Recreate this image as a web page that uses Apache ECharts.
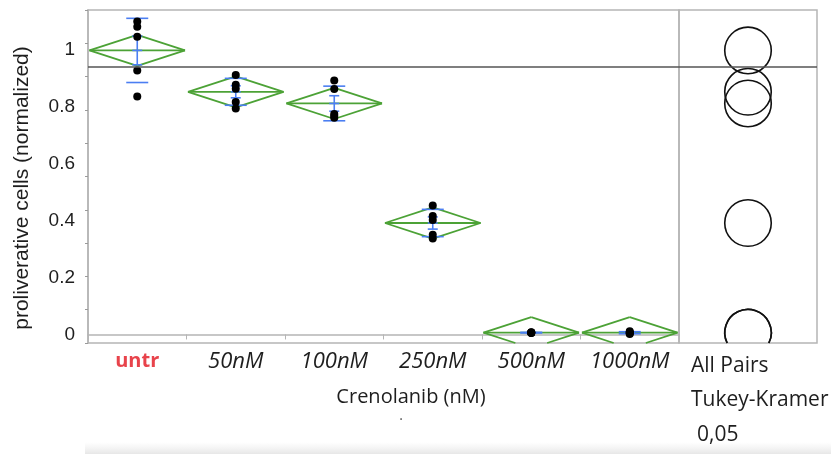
<!DOCTYPE html>
<html>
<head>
<meta charset="utf-8">
<script src="https://cdn.jsdelivr.net/npm/echarts@6/dist/echarts.min.js"></script>
<style>
  html, body { margin: 0; padding: 0; background: #ffffff; }
  #chart { width: 831px; height: 454px; }
</style>
</head>
<body>
<div id="chart"></div>
<script>
// Proliferation after Crenolanib treatment, normalized to untreated cells
const categories = ['untr', '50nM', '100nM', '250nM', '500nM', '1000nM'];
const untr   = [1.100, 1.081, 1.046, 0.927, 0.836];
const nM50   = [0.912, 0.877, 0.863, 0.817, 0.794];
const nM100  = [0.892, 0.862, 0.775, 0.768, 0.761];
const nM250  = [0.453, 0.416, 0.402, 0.350, 0.337];
const nM500  = [0.005, 0.006, 0.006, 0.007, 0.008];
const nM1000 = [0.002, 0.004, 0.006, 0.008, 0.011];
const groups = [untr, nM50, nM100, nM250, nM500, nM1000];

const referenceLevel = 0.94;
const yLabelValues = [0, 0.2, 0.4, 0.6, 0.8, 1];
const yMin = -0.03, yMax = 1.14;

const tCrit = 2.064;  // t(0.975), df = 24
const qStar = 3.092;  // Tukey-Kramer q(0.95; 6, 24) / sqrt(2)

// ---- one-way statistics ----
const stats = groups.map(g => {
  const n = g.length;
  const mean = g.reduce((a, b) => a + b, 0) / n;
  const ss = g.reduce((a, v) => a + (v - mean) * (v - mean), 0);
  const sd = Math.sqrt(ss / (n - 1));
  return { n, mean, ss, sd, se: sd / Math.sqrt(n) };
});
const totalN = stats.reduce((a, s) => a + s.n, 0);
const pooledSd = Math.sqrt(stats.reduce((a, s) => a + s.ss, 0) / (totalN - groups.length));

const diamondData = stats.map((s, i) => [i, s.mean, tCrit * pooledSd / Math.sqrt(s.n)]);
const barData = stats.map((s, i) => [i, s.mean, s.sd, s.se]);
const pointData = [];
groups.forEach((g, i) => g.forEach(v => pointData.push([i, v])));
const circleData = stats.map(s => [0, s.mean, qStar * pooledSd / Math.sqrt(s.n)]);

const green = '#4ca236';
const blue = '#4b7ef2';
const frame = '#b5b5b5';
const textColor = '#1e1e1e';

// clip a segment to the vertical extent [yTop, yBot] of the plot frame
function clipSegment(p, q, yTop, yBot) {
  let [x1, y1] = p, [x2, y2] = q;
  const cut = (ya, yb, xa, xb, yl) => xa + (xb - xa) * (yl - ya) / (yb - ya);
  if ((y1 > yBot && y2 > yBot) || (y1 < yTop && y2 < yTop)) return null;
  if (y1 > yBot) { x1 = cut(y1, y2, x1, x2, yBot); y1 = yBot; }
  if (y2 > yBot) { x2 = cut(y2, y1, x2, x1, yBot); y2 = yBot; }
  if (y1 < yTop) { x1 = cut(y1, y2, x1, x2, yTop); y1 = yTop; }
  if (y2 < yTop) { x2 = cut(y2, y1, x2, x1, yTop); y2 = yTop; }
  return { x1, y1, x2, y2 };
}

const refLine = {
  silent: true,
  symbol: ['none', 'none'],
  label: { show: false },
  lineStyle: { color: '#555555', width: 1.5, type: 'solid' },
  data: [{ yAxis: referenceLevel }]
};

const chart = echarts.init(document.getElementById('chart'), null, { renderer: 'canvas' });

chart.setOption({
  animation: false,
  backgroundColor: '#ffffff',
  grid: [
    { left: 88, top: 10, width: 591, height: 333, show: true, borderColor: frame, borderWidth: 1.5, backgroundColor: 'transparent' },
    { left: 679, top: 10, width: 138, height: 333, show: true, borderColor: frame, borderWidth: 1.5, backgroundColor: 'transparent' }
  ],
  xAxis: [
    {
      gridIndex: 0,
      type: 'category',
      data: categories,
      axisLine: { lineStyle: { color: frame, width: 1.5 } },
      axisTick: { show: true, length: 5, interval: 0, alignWithLabel: false, lineStyle: { color: frame } },
      splitLine: { show: false },
      axisLabel: {
        interval: 0,
        margin: 8,
        formatter: (v, i) => (i === 0 ? '{u|' + v + '}' : '{c|' + v + '}'),
        rich: {
          u: { color: '#e8434b', fontWeight: 'bold', fontFamily: 'Open Sans', fontSize: 20 },
          c: { color: textColor, fontStyle: 'italic', fontFamily: 'Open Sans', fontSize: 22 }
        }
      }
    },
    { gridIndex: 1, type: 'category', data: ['Tukey-Kramer'], show: false }
  ],
  yAxis: [
    {
      gridIndex: 0,
      type: 'value',
      min: yMin,
      max: yMax,
      axisLine: { show: true, lineStyle: { color: frame, width: 1.5 } },
      axisTick: { show: false },
      splitLine: { show: false },
      axisLabel: {
        customValues: yLabelValues,
        margin: 13,
        fontSize: 19,
        fontFamily: '"Liberation Sans", Arial, sans-serif',
        color: textColor
      }
    },
    {
      // evenly spaced tick marks along the left frame
      gridIndex: 0,
      type: 'value',
      min: 0,
      max: 10,
      interval: 1,
      position: 'left',
      axisLine: { show: false },
      axisTick: { show: true, length: 3, lineStyle: { color: '#9a9a9a' } },
      axisLabel: { show: false },
      splitLine: { show: false }
    },
    { gridIndex: 1, type: 'value', min: yMin, max: yMax, show: false }
  ],
  series: [
    {
      // mean diamonds (95% confidence interval, pooled SD)
      type: 'custom',
      xAxisIndex: 0,
      yAxisIndex: 0,
      z: 2,
      data: diamondData,
      renderItem: (params, api) => {
        const cs = params.coordSys;
        const yTop = cs.y, yBot = cs.y + cs.height;
        const c = api.coord([api.value(0), api.value(1)]);
        const top = api.coord([api.value(0), api.value(1) + api.value(2)]);
        const bot = api.coord([api.value(0), api.value(1) - api.value(2)]);
        const hw = api.size([1, 0])[0] * 0.485;
        const L = [c[0] - hw, c[1]], T = [c[0], top[1]], R = [c[0] + hw, c[1]], B = [c[0], bot[1]];
        const style = { stroke: green, fill: 'none', lineWidth: 1.8 };
        const edges = [[L, T], [T, R], [R, B], [B, L], [L, R]];
        const children = [];
        edges.forEach(([p, q]) => {
          const s = clipSegment(p, q, yTop, yBot);
          if (s) children.push({ type: 'line', shape: s, style });
        });
        return { type: 'group', children };
      }
    },
    {
      // standard deviation lines and mean error bars
      type: 'custom',
      xAxisIndex: 0,
      yAxisIndex: 0,
      z: 3,
      data: barData,
      renderItem: (params, api) => {
        const x = api.value(0), m = api.value(1), sd = api.value(2), se = api.value(3);
        const c = api.coord([x, m]);
        const sdTop = api.coord([x, m + sd])[1], sdBot = api.coord([x, m - sd])[1];
        const seTop = api.coord([x, m + se])[1], seBot = api.coord([x, m - se])[1];
        const style = { stroke: blue, lineWidth: 1.6, fill: 'none' };
        const hl = (y, hw) => ({ type: 'line', shape: { x1: c[0] - hw, y1: y, x2: c[0] + hw, y2: y }, style });
        return {
          type: 'group',
          children: [
            hl(sdTop, 11), hl(sdBot, 11),
            { type: 'line', shape: { x1: c[0], y1: seTop, x2: c[0], y2: seBot }, style },
            hl(seTop, 5), hl(seBot, 5), hl(c[1], 5)
          ]
        };
      }
    },
    {
      type: 'scatter',
      xAxisIndex: 0,
      yAxisIndex: 0,
      z: 4,
      symbol: 'circle',
      symbolSize: 8,
      itemStyle: { color: '#000000', opacity: 1 },
      data: pointData,
      markLine: refLine
    },
    {
      // comparison circles
      type: 'custom',
      xAxisIndex: 1,
      yAxisIndex: 2,
      z: 3,
      data: circleData,
      renderItem: (params, api) => {
        const cs = params.coordSys;
        const yBot = cs.y + cs.height;
        const c = api.coord([api.value(0), api.value(1)]);
        const r = api.size([0, api.value(2)])[1];
        const style = { stroke: '#111111', fill: 'none', lineWidth: 1.6 };
        if (c[1] + r <= yBot) {
          return { type: 'circle', shape: { cx: c[0], cy: c[1], r }, style };
        }
        // keep only the part of the circle above the bottom frame
        const a = Math.asin(Math.max(-1, Math.min(1, (yBot - c[1]) / r)));
        return {
          type: 'arc',
          shape: { cx: c[0], cy: c[1], r, startAngle: Math.PI - a, endAngle: 2 * Math.PI + a, clockwise: true },
          style
        };
      },
      markLine: refLine
    }
  ],
  graphic: [
    {
      type: 'rect', z: -10, silent: true,
      shape: { x: 85, y: 442, width: 746, height: 12 },
      style: { fill: new echarts.graphic.LinearGradient(0, 0, 0, 1, [
        { offset: 0, color: 'rgba(235,235,235,0)' },
        { offset: 1, color: 'rgba(228,228,228,0.9)' }
      ]) }
    },
    {
      type: 'text', x: 22, y: 188, rotation: Math.PI / 2,
      style: { text: 'proliverative cells (normalized)', font: '21px "Liberation Sans", Arial, sans-serif', fill: textColor,
               align: 'center', verticalAlign: 'middle', textAlign: 'center', textVerticalAlign: 'middle' }
    },
    {
      type: 'text', x: 411, y: 397,
      style: { text: 'Crenolanib (nM)', font: '20px "Open Sans", sans-serif', fill: textColor,
               align: 'center', verticalAlign: 'middle', textAlign: 'center', textVerticalAlign: 'middle' }
    },
    {
      type: 'text', x: 401, y: 416,
      style: { text: '.', font: '14px "Open Sans", sans-serif', fill: '#555555',
               align: 'center', verticalAlign: 'middle', textAlign: 'center', textVerticalAlign: 'middle' }
    },
    {
      type: 'text', x: 691, y: 366,
      style: { text: 'All Pairs', font: '21px "Open Sans", sans-serif', fill: textColor,
               align: 'left', verticalAlign: 'middle', textAlign: 'left', textVerticalAlign: 'middle' }
    },
    {
      type: 'text', x: 691, y: 400,
      style: { text: 'Tukey-Kramer', font: '21px "Open Sans", sans-serif', fill: textColor,
               align: 'left', verticalAlign: 'middle', textAlign: 'left', textVerticalAlign: 'middle' }
    },
    {
      type: 'text', x: 697, y: 435,
      style: { text: '0,05', font: '21px "Open Sans", sans-serif', fill: textColor,
               align: 'left', verticalAlign: 'middle', textAlign: 'left', textVerticalAlign: 'middle' }
    }
  ]
});
</script>
</body>
</html>
